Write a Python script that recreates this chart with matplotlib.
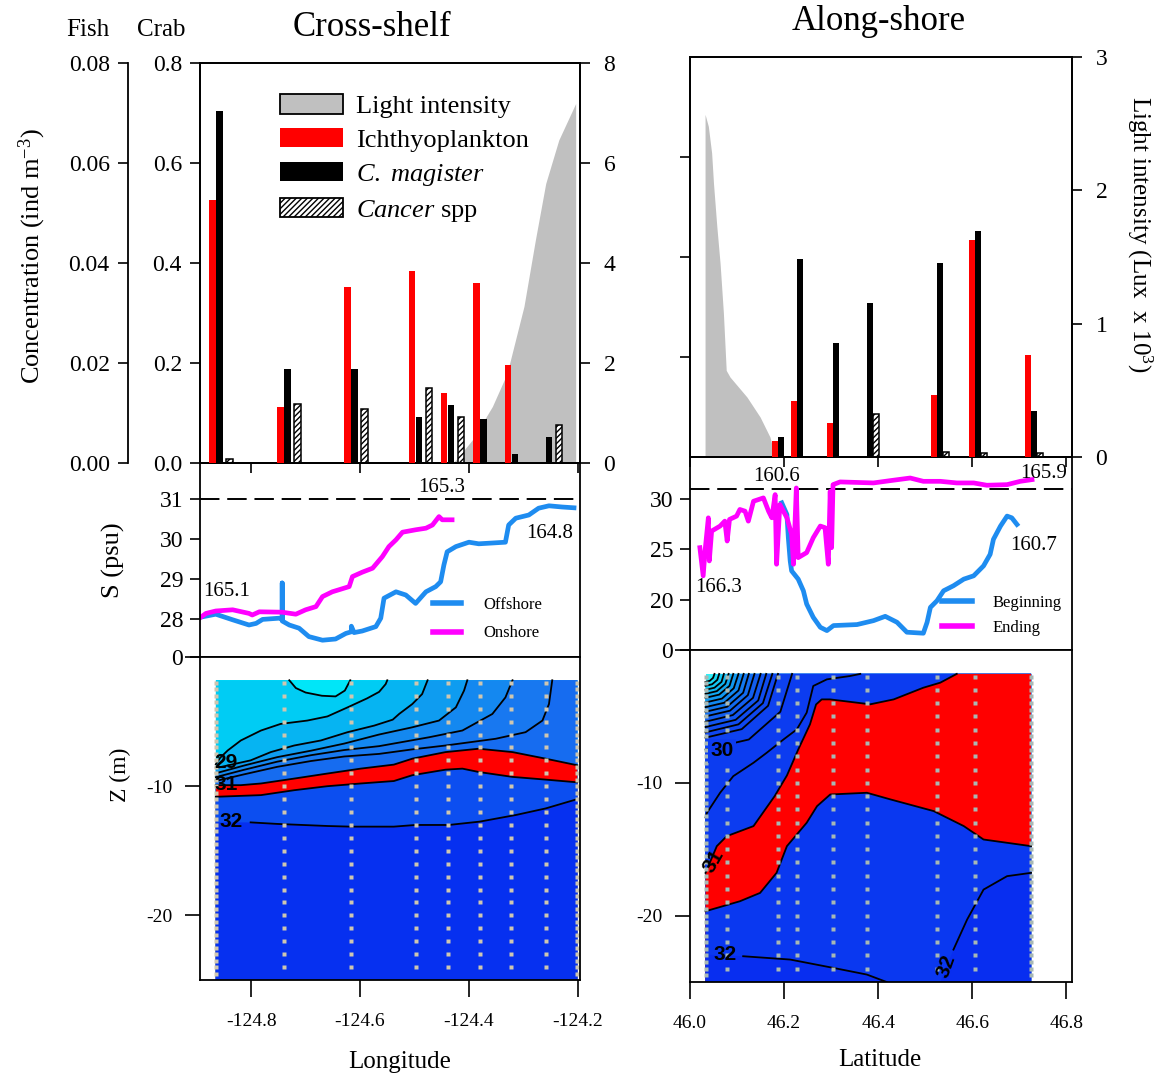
import numpy as np
import matplotlib
matplotlib.use('Agg')
import matplotlib.pyplot as plt
from matplotlib.patches import Patch
from matplotlib.lines import Line2D

plt.rcParams['font.family'] = ['Liberation Serif', 'DejaVu Serif']
plt.rcParams['mathtext.fontset'] = 'custom'
plt.rcParams['mathtext.rm'] = 'Liberation Serif'
plt.rcParams['mathtext.it'] = 'Liberation Serif:italic'
plt.rcParams['hatch.linewidth'] = 1.0
plt.rcParams['axes.linewidth'] = 1.3

# ---------------- data ----------------
lon_ticks = [-124.8, -124.6, -124.4, -124.2]
lon_labels = ['-124.8', '-124.6', '-124.4', '-124.2']
lat_ticks = [46.0, 46.2, 46.4, 46.6, 46.8]
lat_labels = ['46.0', '46.2', '46.4', '46.6', '46.8']

# cross-shelf transect
cs_stations = [-124.865, -124.740, -124.617, -124.498, -124.439, -124.380, -124.322, -124.259, -124.201]
cs_fish = [0.0526, 0.0113, 0.0353, 0.0385, 0.0141, 0.0361, 0.0196, 0.0]
cs_magister = [0.705, 0.188, 0.188, 0.093, 0.116, 0.088, 0.019, 0.053]
cs_cancer = [0.008, 0.119, 0.108, 0.151, 0.093, 0.0, 0.0, 0.076]
cs_light_lon = [-124.431, -124.424, -124.394, -124.357, -124.330, -124.299, -124.278, -124.259, -124.235, -124.204]
cs_light = [0.0, 0.06, 0.46, 1.13, 1.79, 3.13, 4.46, 5.59, 6.46, 7.19]

cs_offshore_lon = [-124.895, -124.865, -124.834, -124.804, -124.791, -124.779, -124.749, -124.743, -124.743,
                   -124.743, -124.730, -124.712, -124.694, -124.669, -124.645, -124.626, -124.616, -124.616,
                   -124.611, -124.596, -124.571, -124.562, -124.556, -124.534, -124.516, -124.498, -124.479,
                   -124.461, -124.452, -124.446, -124.440, -124.424, -124.400, -124.382, -124.357, -124.333,
                   -124.327, -124.314, -124.290, -124.272, -124.253, -124.229, -124.207]
cs_offshore_s = [28.04, 28.12, 27.98, 27.85, 27.89, 27.99, 28.02, 28.00, 28.90, 27.95, 27.85, 27.77, 27.56,
                 27.47, 27.50, 27.64, 27.68, 27.82, 27.66, 27.70, 27.81, 28.02, 28.52, 28.68, 28.60, 28.39,
                 28.68, 28.81, 28.93, 29.35, 29.68, 29.81, 29.92, 29.88, 29.90, 29.92, 30.35, 30.52, 30.60,
                 30.77, 30.83, 30.80, 30.78]
cs_onshore_lon = [-124.895, -124.883, -124.865, -124.834, -124.804, -124.798, -124.785, -124.743, -124.718,
                  -124.700, -124.681, -124.669, -124.651, -124.639, -124.620, -124.614, -124.596, -124.577,
                  -124.559, -124.547, -124.534, -124.522, -124.498, -124.479, -124.467, -124.455, -124.449,
                  -124.431]
cs_onshore_s = [28.02, 28.14, 28.20, 28.23, 28.14, 28.10, 28.18, 28.17, 28.12, 28.23, 28.31, 28.56, 28.68,
                28.73, 28.81, 29.06, 29.17, 29.27, 29.56, 29.81, 29.98, 30.17, 30.23, 30.27, 30.35, 30.56,
                30.48, 30.48]

# isohaline depths along the cross-shelf section (lon, depth m)
cs_iso_280 = ([-124.730, -124.718, -124.700, -124.670, -124.645, -124.628, -124.618],
              [-1.8, -2.4, -2.75, -3.0, -3.05, -2.6, -1.8])
cs_iso_285 = ([-124.865, -124.857, -124.843, -124.819, -124.782, -124.746, -124.697, -124.660, -124.623,
               -124.587, -124.565, -124.553, -124.550],
              [-8.3, -7.8, -7.23, -6.46, -5.69, -5.18, -4.92, -4.6, -3.9, -3.2, -2.7, -2.1, -1.8])
cs_iso_290 = ([-124.865, -124.801, -124.764, -124.721, -124.672, -124.623, -124.574, -124.540, -124.528,
               -124.504, -124.486, -124.476],
              [-8.6, -8.0, -7.36, -6.85, -6.46, -5.82, -5.31, -4.85, -4.4, -3.64, -2.87, -1.8])
cs_iso_295 = ([-124.865, -124.813, -124.752, -124.690, -124.629, -124.565, -124.504, -124.455, -124.424,
               -124.409, -124.403],
              [-9.0, -8.4, -7.75, -7.25, -6.7, -6.0, -5.44, -4.92, -3.9, -2.6, -1.8])
cs_iso_300 = ([-124.865, -124.815, -124.752, -124.690, -124.629, -124.565, -124.473, -124.412, -124.357,
               -124.333, -124.320],
              [-9.3, -8.75, -8.1, -7.6, -7.2, -6.9, -6.21, -5.69, -4.41, -3.13, -1.8])
cs_iso_305 = ([-124.865, -124.815, -124.752, -124.690, -124.629, -124.565, -124.504, -124.443, -124.351,
               -124.296, -124.265, -124.253, -124.247],
              [-9.6, -9.1, -8.5, -8.05, -7.7, -7.5, -7.15, -6.85, -6.33, -5.82, -4.92, -3.64, -1.8])
cs_iso_310 = ([-124.865, -124.819, -124.782, -124.721, -124.660, -124.599, -124.538, -124.504, -124.443,
               -124.382, -124.320, -124.259, -124.201],
              [-9.92, -9.92, -9.79, -9.41, -9.02, -8.64, -8.33, -7.87, -7.36, -7.1, -7.36, -7.87, -8.38])
cs_iso_315 = ([-124.865, -124.782, -124.721, -124.660, -124.599, -124.538, -124.504, -124.443, -124.412,
               -124.382, -124.320, -124.259, -124.201],
              [-10.82, -10.69, -10.31, -10.0, -9.79, -9.6, -9.15, -8.72, -8.64, -8.9, -9.28, -9.49, -9.7])
cs_iso_320 = ([-124.865, -124.801, -124.752, -124.660, -124.617, -124.538, -124.498, -124.437, -124.380,
               -124.314, -124.259, -124.201],
              [-12.8, -12.8, -12.92, -13.08, -13.13, -13.13, -13.0, -13.0, -12.74, -12.23, -11.72, -11.0])

# along-shore transect
as_stations = [46.033, 46.079, 46.188, 46.227, 46.304, 46.377, 46.525, 46.606, 46.725]
as_fish = [0.0033, 0.0113, 0.0069, 0.0, 0.0124, 0.0434, 0.0204]
as_magister = [0.041, 0.397, 0.229, 0.309, 0.389, 0.452, 0.092]
as_cancer = [0.0, 0.0, 0.0, 0.087, 0.011, 0.008, 0.008]
as_light_lat = [46.032, 46.039, 46.046, 46.050, 46.057, 46.064, 46.071, 46.077, 46.085, 46.121, 46.149,
                46.170, 46.181]
as_light = [2.57, 2.48, 2.28, 2.05, 1.73, 1.45, 1.08, 0.65, 0.60, 0.45, 0.30, 0.15, 0.0]

as_begin_lat = [46.195, 46.206, 46.209, 46.213, 46.216, 46.230, 46.241, 46.248, 46.262, 46.277, 46.291,
                46.305, 46.355, 46.390, 46.415, 46.440, 46.461, 46.496, 46.504, 46.511, 46.525, 46.539,
                46.560, 46.582, 46.603, 46.624, 46.638, 46.645, 46.660, 46.674, 46.684, 46.695]
as_begin_s = [29.64, 28.48, 26.17, 23.86, 22.87, 22.05, 20.89, 19.57, 18.25, 17.26, 16.93, 17.43, 17.53,
              17.92, 18.35, 17.76, 16.77, 16.67, 17.76, 19.24, 19.90, 20.89, 21.39, 22.05, 22.38, 23.37,
              24.52, 26.01, 27.33, 28.32, 28.15, 27.49]
as_end_lat = [46.021, 46.028, 46.032, 46.039, 46.041, 46.046, 46.064, 46.074, 46.079, 46.084, 46.099,
              46.106, 46.117, 46.124, 46.135, 46.156, 46.167, 46.174, 46.181, 46.184, 46.191, 46.206,
              46.216, 46.220, 46.226, 46.230, 46.248, 46.262, 46.277, 46.287, 46.294, 46.298, 46.301,
              46.304, 46.319, 46.390, 46.426, 46.468, 46.496, 46.532, 46.567, 46.603, 46.631, 46.674,
              46.702, 46.727]
as_end_s = [25.18, 22.38, 24.85, 28.15, 23.86, 26.83, 27.33, 27.82, 25.84, 27.99, 28.32, 28.98, 28.81,
            27.82, 29.80, 30.13, 28.81, 28.15, 30.46, 23.53, 29.47, 28.15, 26.50, 23.53, 31.12, 24.19,
            24.69, 26.17, 27.33, 27.17, 23.53, 30.79, 25.18, 31.45, 31.72, 31.62, 31.85, 32.11, 31.78,
            31.78, 31.62, 31.62, 31.39, 31.45, 31.78, 31.95]

# isohaline depths along the along-shore section (lat, depth m)
as_iso_2650 = ([46.033, 46.042, 46.049, 46.052], [-2.4, -2.32, -2.1, -1.8])
as_iso_2675 = ([46.033, 46.047, 46.058, 46.062], [-2.7, -2.58, -2.25, -1.8])
as_iso_2700 = ([46.033, 46.052, 46.067, 46.072], [-3.0, -2.84, -2.4, -1.8])
as_iso_2725 = ([46.033, 46.057, 46.075, 46.082], [-3.3, -3.1, -2.55, -1.8])
as_iso_2750 = ([46.033, 46.062, 46.084, 46.092], [-3.6, -3.36, -2.7, -1.8])
as_iso_2775 = ([46.033, 46.068, 46.093, 46.103], [-3.95, -3.66, -2.88, -1.8])
as_iso_2800 = ([46.033, 46.073, 46.103, 46.114], [-4.3, -3.97, -3.05, -1.8])
as_iso_2825 = ([46.033, 46.079, 46.113, 46.125], [-4.65, -4.27, -3.22, -1.8])
as_iso_2850 = ([46.033, 46.085, 46.123, 46.137], [-5.0, -4.57, -3.4, -1.8])
as_iso_2875 = ([46.033, 46.091, 46.134, 46.150], [-5.4, -4.9, -3.6, -1.8])
as_iso_2900 = ([46.033, 46.097, 46.145, 46.162], [-5.8, -5.26, -3.8, -1.8])
as_iso_2925 = ([46.033, 46.103, 46.155, 46.175], [-6.2, -5.6, -4.0, -1.8])
as_iso_2950 = ([46.033, 46.110, 46.166, 46.187], [-6.6, -5.96, -4.2, -1.8])
as_iso_3000 = ([46.033, 46.125, 46.192, 46.217], [-7.5, -6.74, -4.65, -1.8])
as_iso_3050 = ([46.033, 46.036, 46.064, 46.092, 46.135, 46.163, 46.199, 46.227, 46.248, 46.255, 46.262,
                46.291, 46.340, 46.362],
               [-12.6, -12.26, -10.75, -9.5, -8.49, -7.74, -6.73, -5.98, -4.72, -3.72, -2.71, -2.21,
                -1.96, -1.8])
as_iso_3100 = ([46.033, 46.057, 46.078, 46.135, 46.180, 46.206, 46.230, 46.255, 46.268, 46.280, 46.298,
                46.383, 46.433, 46.496, 46.532, 46.567],
               [-16.78, -14.77, -14.02, -13.26, -11.0, -9.45, -7.5, -5.6, -4.1, -3.72, -3.72, -4.09, -3.72,
                -2.84, -2.46, -1.8])
as_iso_3150 = ([46.033, 46.106, 46.149, 46.184, 46.206, 46.248, 46.270, 46.298, 46.376, 46.426, 46.518,
                46.582, 46.624, 46.725],
               [-19.67, -18.92, -18.29, -16.78, -14.77, -13.01, -11.76, -10.88, -10.75, -11.25, -12.13,
                -13.26, -14.27, -14.77])
as_iso_3200a = ([46.033, 46.113, 46.213, 46.305, 46.376, 46.418], [-22.94, -23.06, -23.31, -23.94, -24.44, -25.0])
as_iso_3200b = ([46.532, 46.560, 46.589, 46.624, 46.674, 46.725], [-25.0, -22.56, -20.3, -18.04, -17.03, -16.78])

sample_depths = np.arange(-2.0, -24.5, -1.0)

# ---------------- layout ----------------
W, H = 1167, 1076
fig = plt.figure(figsize=(W / 100, H / 100), dpi=100)


def box(x0, y0, x1, y1):
    return [x0 / W, 1 - y1 / H, (x1 - x0) / W, (y1 - y0) / H]


def ftext(x, y, s, **kw):
    fig.text(x / W, 1 - y / H, s, ha='center', va='center', **kw)


cs_xlim = (-124.894, -124.196)
as_xlim = (46.0, 46.812)
blue = '#1e8cf0'
gray = '#c0c0c0'


def salty_side(xs, zs, x0, x1, zb, zt):
    # close an isohaline along the section frame, keeping the saltier side (right of travel)
    w, h = x1 - x0, zt - zb
    per = 2.0 * (w + h)

    def pos(x, z):
        d = [abs(z - zb) / h, abs(x - x1) / w, abs(z - zt) / h, abs(x - x0) / w]
        k = int(np.argmin(d))
        return [x - x0, w + z - zb, w + h + x1 - x, 2 * w + h + zt - z][k]

    corners = [(x0, zb, 0.0), (x1, zb, w), (x1, zt, w + h), (x0, zt, 2 * w + h)]
    s_end = pos(xs[-1], zs[-1])
    span = (s_end - pos(xs[0], zs[0])) % per
    walk = sorted(((s_end - s) % per, cx, cz) for cx, cz, s in corners if 0 < (s_end - s) % per < span)
    return list(xs) + [c[1] for c in walk], list(zs) + [c[2] for c in walk]


def section(ax, stations, isolines, base, fills, dot_color, labelled=()):
    x0, x1, zb, zt = stations[0], stations[-1], -25.0, -1.8
    ax.fill([x0, x1, x1, x0], [zb, zb, zt, zt], color=base, lw=0)
    for lev, (xs, zs) in isolines:
        px, pz = salty_side(xs, zs, x0, x1, zb, zt)
        ax.fill(px, pz, color=fills[lev], lw=0)
    for i, (lev, (xs, zs)) in enumerate(isolines):
        # leave the first stretch open where the value label sits
        k = 1 if i in labelled else 0
        ax.plot(xs[k:], zs[k:], color='black', lw=1.3)
    for i, s in enumerate(stations):
        depths = np.arange(-2.0, -25.0, -0.5) if i in (0, len(stations) - 1) else sample_depths
        ax.plot([s] * len(depths), depths, 's', ms=2.3, color=dot_color, mec='none')
    ax.set_ylim(-25, 0)
    ax.set_yticks([-20, -10, 0])
    ax.set_yticklabels(['-20', '-10', ''])
    ax.tick_params(direction='out', length=11, width=1.2, labelsize=14, pad=9)
    ax.tick_params(axis='x', length=12, pad=12)


def clabel(ax, x, y, s, bg=None, rot=0):
    kw = dict(ha='center', va='center', fontsize=15, fontweight='bold', family='Liberation Sans',
              rotation=rot)
    if bg:
        kw['bbox'] = dict(facecolor=bg, edgecolor='none', pad=2)
    ax.text(x, y, s, **kw)


def top_panel(rect, stations, fish, magister, cancer, light_x, light, xlim, ticks, light_max,
              off_red, off_black, off_hatch, width):
    ax = fig.add_axes(rect)
    ax_light = ax.twinx()
    ax_fish = ax.twinx()
    ax_light.set_zorder(1)
    ax.set_zorder(2)
    ax_fish.set_zorder(3)
    ax.patch.set_visible(False)
    ax_light.fill_between(light_x, 0, light, color=gray, lw=0)
    st = np.array(stations)
    ax_fish.bar(st + off_red, fish, width, color='red', lw=0)
    ax.bar(st + off_black, magister, width, color='black', lw=0)
    ax.bar(st + off_hatch, cancer, width, facecolor='white', edgecolor='black', hatch='//////', lw=1.1)
    ax.set_xlim(xlim)
    ax.set_ylim(0, 0.8)
    ax_fish.set_ylim(0, 0.08)
    ax_light.set_ylim(0, light_max)
    ax.set_xticks(ticks)
    ax.set_xticklabels([])
    ax.tick_params(direction='out', length=7, width=1.2, labelsize=17, pad=6)
    ax_light.tick_params(direction='out', length=7, width=1.2, labelsize=17, pad=10)
    return ax, ax_fish, ax_light


# ---------------- cross-shelf ----------------
axL, fishL, lightL = top_panel(box(200, 63, 580, 463), cs_stations[:8], cs_fish, cs_magister, cs_cancer,
                               cs_light_lon, cs_light, cs_xlim, lon_ticks, 8,
                               -0.0064, 0.0064, 0.0248, 0.012)
axL.set_yticks([0, 0.2, 0.4, 0.6, 0.8])
axL.set_yticklabels(['0.0', '0.2', '0.4', '0.6', '0.8'])
lightL.set_yticks([0, 2, 4, 6, 8])
fishL.yaxis.set_ticks_position('left')
fishL.spines['left'].set_position(('outward', 52))
for sp in ['right', 'top', 'bottom']:
    fishL.spines[sp].set_visible(False)
fishL.spines['left'].set_visible(True)
fishL.set_yticks([0, 0.02, 0.04, 0.06, 0.08])
fishL.set_yticklabels(['0.00', '0.02', '0.04', '0.06', '0.08'])
fishL.tick_params(direction='out', length=7, width=1.2, labelsize=17, pad=6)

handles = [Patch(facecolor=gray, edgecolor='black', lw=1.3),
           Patch(facecolor='red', lw=0),
           Patch(facecolor='black', lw=0),
           Patch(facecolor='white', edgecolor='black', hatch='//////', lw=1.3)]
labels = ['Light intensity', 'Ichthyoplankton', r'$\mathit{C.\ magister}$', r'$\mathit{Cancer}$ spp']
axL.legend(handles, labels, loc='upper left', bbox_to_anchor=(0.21, 0.922), frameon=False, fontsize=19,
           handlelength=2.4, handleheight=0.75, handletextpad=0.5, labelspacing=0.38,
           borderpad=0, borderaxespad=0)

axLm = fig.add_axes(box(200, 463, 580, 657))
axLm.axhline(31, color='black', lw=1.4, dashes=(10, 4))
axLm.plot(cs_offshore_lon, cs_offshore_s, color=blue, lw=3.4)
axLm.plot(cs_onshore_lon, cs_onshore_s, color='magenta', lw=3.4)
axLm.set_xlim(cs_xlim)
axLm.set_ylim(27.05, 31.9)
axLm.set_yticks([27.05, 28, 29, 30, 31])
axLm.set_yticklabels(['0', '28', '29', '30', '31'])
axLm.set_xticks(lon_ticks)
axLm.set_xticklabels([])
axLm.tick_params(direction='out', length=7, width=1.2, labelsize=17, pad=5)
axLm.text(-124.846, 28.68, '165.1', ha='center', va='center', fontsize=15)
axLm.text(-124.450, 31.28, '165.3', ha='center', va='center', fontsize=15)
axLm.text(-124.251, 30.13, '164.8', ha='center', va='center', fontsize=15)
axLm.legend([Line2D([], [], color=blue, lw=4), Line2D([], [], color='magenta', lw=4)],
            ['Offshore', 'Onshore'], loc='upper left', bbox_to_anchor=(0.613, 0.31), frameon=False,
            fontsize=12, handlelength=1.7, handletextpad=1.3, labelspacing=0.75, borderpad=0,
            borderaxespad=0)

axLb = fig.add_axes(box(200, 657, 580, 980))
cs_fills = {28.0: '#00ccf4', 28.5: '#06b4f2', 29.0: '#0e9cf0', 29.5: '#1488f0', 30.0: '#1878f0',
            30.5: '#166cf0', 31.0: '#ff0000', 31.5: '#0c4ef0', 32.0: '#0630f0'}
section(axLb, cs_stations,
        [(28.0, cs_iso_280), (28.5, cs_iso_285), (29.0, cs_iso_290), (29.5, cs_iso_295), (30.0, cs_iso_300),
         (30.5, cs_iso_305), (31.0, cs_iso_310), (31.5, cs_iso_315), (32.0, cs_iso_320)],
        '#00e6f8', cs_fills, '#cfc6b0', labelled=(8,))
axLb.set_xlim(cs_xlim)
axLb.set_xticks(lon_ticks)
axLb.set_xticklabels(lon_labels)
clabel(axLb, -124.846, -8.2, '29')
clabel(axLb, -124.846, -9.9, '31')
clabel(axLb, -124.836, -12.75, '32')

# ---------------- along-shore ----------------
axR, fishR, lightR = top_panel(box(690, 57, 1072, 457), as_stations[2:], as_fish, as_magister, as_cancer,
                               as_light_lat, as_light, as_xlim, lat_ticks, 3,
                               -0.0064, 0.0064, 0.019, 0.0128)
axR.set_yticks([0.2, 0.4, 0.6])
axR.set_yticklabels([])
lightR.set_yticks([0, 1, 2, 3])
fishR.axis('off')

axRm = fig.add_axes(box(690, 457, 1072, 650))
axRm.axhline(31, color='black', lw=1.4, dashes=(10, 4))
axRm.plot(as_begin_lat, as_begin_s, color=blue, lw=3.4)
axRm.plot(as_end_lat, as_end_s, color='magenta', lw=3.4)
axRm.set_xlim(as_xlim)
axRm.set_ylim(15, 34.2)
axRm.set_yticks([15, 20, 25, 30])
axRm.set_yticklabels(['0', '20', '25', '30'])
axRm.set_xticks(lat_ticks)
axRm.set_xticklabels([])
axRm.tick_params(direction='out', length=7, width=1.2, labelsize=17, pad=5)
axRm.text(46.183, 32.3, '160.6', ha='center', va='center', fontsize=15)
axRm.text(46.751, 32.6, '165.9', ha='center', va='center', fontsize=15)
axRm.text(46.060, 21.2, '166.3', ha='center', va='center', fontsize=15)
axRm.text(46.730, 25.35, '160.7', ha='center', va='center', fontsize=15)
axRm.legend([Line2D([], [], color=blue, lw=4), Line2D([], [], color='magenta', lw=4)],
            ['Beginning', 'Ending'], loc='upper left', bbox_to_anchor=(0.66, 0.285), frameon=False,
            fontsize=12, handlelength=1.8, handletextpad=1.2, labelspacing=0.55, borderpad=0,
            borderaxespad=0)

axRb = fig.add_axes(box(690, 650, 1072, 982))
as_fills = {26.5: '#18d8f4', 26.75: '#14c8f3', 27.0: '#10b8f2', 27.25: '#10a8f1', 27.5: '#1098f0',
            27.75: '#1188f0', 28.0: '#1278f0', 28.25: '#126bf0', 28.5: '#125ef0', 28.75: '#1155f0',
            29.0: '#104cf0', 29.25: '#0f47f0', 29.5: '#0e42f0', 30.0: '#0c3cf0', 30.5: '#0c3cf0',
            31.0: '#ff0000', 31.5: '#0a38f0', 32.0: '#082ef0'}
section(axRb, as_stations,
        [(26.5, as_iso_2650), (26.75, as_iso_2675), (27.0, as_iso_2700), (27.25, as_iso_2725),
         (27.5, as_iso_2750), (27.75, as_iso_2775), (28.0, as_iso_2800), (28.25, as_iso_2825),
         (28.5, as_iso_2850), (28.75, as_iso_2875), (29.0, as_iso_2900), (29.25, as_iso_2925),
         (29.5, as_iso_2950), (30.0, as_iso_3000), (30.5, as_iso_3050), (31.0, as_iso_3100),
         (31.5, as_iso_3150), (32.0, as_iso_3200a), (32.0, as_iso_3200b)],
        '#30f0f8', as_fills, '#a8b8b4', labelled=(17, 18))
axRb.set_xlim(as_xlim)
axRb.set_xticks(lat_ticks)
axRb.set_xticklabels(lat_labels)
clabel(axRb, 46.068, -7.6, '30', bg='#0c3cf0')
clabel(axRb, 46.050, -15.9, '31', rot=60)
clabel(axRb, 46.074, -22.9, '32')
clabel(axRb, 46.545, -23.8, '32', rot=70)

# ---------------- figure text ----------------
ftext(372, 27, 'Cross-shelf', fontsize=25)
ftext(879, 22, 'Along-shore', fontsize=25)
ftext(88, 30, 'Fish', fontsize=18)
ftext(161, 30, 'Crab', fontsize=18)
ftext(32, 256, r'Concentration (ind m$^{\mathregular{-3}}$)', fontsize=19, rotation=90)
ftext(1140, 234, r'Light intensity (Lux  x 10$^{\mathregular{3}}$)', fontsize=18, rotation=270)
ftext(113, 560, 'S (psu)', fontsize=19, rotation=90)
ftext(120, 775, 'Z (m)', fontsize=17, rotation=90)
ftext(400, 1062, 'Longitude', fontsize=18)
ftext(880, 1060, 'Latitude', fontsize=18)

fig.savefig('out.png', dpi=100)
